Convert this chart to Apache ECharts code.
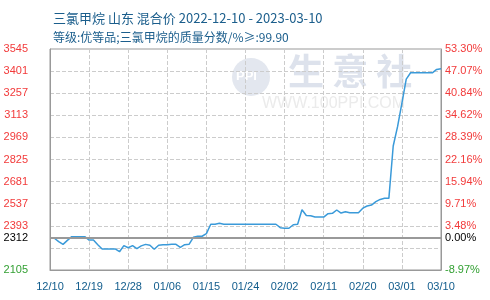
<!DOCTYPE html>
<html>
<head>
<meta charset="utf-8">
<script src="https://cdn.jsdelivr.net/npm/echarts@6/dist/echarts.min.js"></script>
<style>
html, body {margin: 0; padding: 0; background: #fff;}
#chart {width: 490px; height: 300px;}
</style>
</head>
<body>
<div id="chart"></div>
<script>
// 三氯甲烷 山东 混合价，日数据 2022-12-10 ~ 2023-03-10
var startDate = '2022-12-10'
var dayCount = 91
var prices = [
  2312, 2312, 2290, 2272, 2298, 2322, 2322, 2322, 2322, 2300,
  2300, 2270, 2242, 2242, 2242, 2242, 2224, 2264, 2250, 2264,
  2244, 2262, 2272, 2266, 2240, 2266, 2270, 2270, 2272, 2272,
  2253, 2270, 2272, 2318, 2325, 2325, 2342, 2403, 2403, 2409,
  2403, 2403, 2403, 2403, 2403, 2403, 2403, 2403, 2403, 2403,
  2403, 2403, 2403, 2381, 2377, 2377, 2400, 2403, 2498, 2460,
  2459, 2450, 2450, 2450, 2472, 2474, 2496, 2476, 2485, 2478,
  2478, 2478, 2508, 2522, 2528, 2550, 2565, 2572, 2572, 2913,
  3039, 3192, 3349, 3390, 3390, 3390, 3390, 3390, 3390, 3412,
  3416
]
var leftLabels = ['2105', '', '2393', '2537', '2681', '2825', '2969', '3113', '3257', '3401', '3545']
var rightLabels = ['-8.97%', '', '3.48%', '9.71%', '15.94%', '22.16%', '28.39%', '34.62%', '40.84%', '47.07%', '53.30%']
var basePrice = 2312
var baseLeftLabel = '2312'
var baseRightLabel = '0.00%'
var priceMin = 2105
var priceMax = 3545

var dates = []
var d0 = new Date(startDate + 'T00:00:00Z')
for (var i = 0; i < dayCount; i++) {
  var d = new Date(d0.getTime() + i * 86400000)
  var mm = ('0' + (d.getUTCMonth() + 1)).slice(-2)
  var dd = ('0' + d.getUTCDate()).slice(-2)
  dates.push(mm + '/' + dd)
}

var labelFont = 'Liberation Sans, Arial, sans-serif'
function labelColor(v) {
  return Number(v) === 0 ? '#33a033' : '#f23a3a'
}

var chart = echarts.init(document.getElementById('chart'))
chart.setOption({
  animation: false,
  title: [{
    text: '三氯甲烷 山东 混合价 2022-12-10 - 2023-03-10',
    left: 48, top: 7,
    textStyle: {fontSize: 13, fontWeight: 'normal', color: '#1b5e8c', fontFamily: 'Noto Sans CJK SC, sans-serif'}
  }, {
    text: '等级:优等品;三氯甲烷的质量分数/%≥:99.90',
    left: 48, top: 26,
    textStyle: {fontSize: 12, fontWeight: 'normal', color: '#1b5e8c', fontFamily: 'Noto Sans CJK SC, sans-serif'}
  }],
  graphic: [
    {type: 'circle', left: 232, top: 58, shape: {r: 19}, style: {fill: '#e3e7ef'}, z: 0},
    {type: 'text', left: 236, top: 70, style: {text: 'PPI', fill: '#fff', font: 'bold 13px Liberation Sans'}, z: 0},
    {type: 'text', left: 288, top: 53, style: {text: '生 意 社', fill: '#dde2ec', font: 'bold 36px Noto Sans CJK SC'}, z: 0},
    {type: 'text', left: 262, top: 96, style: {text: 'WWW.100PPI.COM', fill: '#ebebeb', font: '16px Liberation Sans'}, z: 0}
  ],
  grid: {left: 50, right: 49, top: 49, bottom: 30, show: true, borderColor: '#999', borderWidth: 1},
  xAxis: {
    type: 'category',
    data: dates,
    boundaryGap: false,
    axisLine: {lineStyle: {color: '#999'}},
    axisTick: {show: false},
    axisLabel: {interval: 8, color: '#115c8c', fontSize: 11, fontFamily: labelFont, margin: 11},
    splitLine: {show: true, interval: 8, lineStyle: {color: '#ccc', type: 'dashed'}}
  },
  yAxis: [{
    type: 'value', min: priceMin, max: priceMax, show: false, splitLine: {show: false}
  }, {
    type: 'value', position: 'left', min: 0, max: 10, interval: 1,
    axisLine: {show: true, lineStyle: {color: '#999'}},
    axisTick: {show: false},
    axisLabel: {
      margin: 22, fontSize: 11, fontFamily: labelFont, color: labelColor,
      formatter: function (v) { return leftLabels[v] }
    },
    splitLine: {show: true, lineStyle: {color: '#ccc', type: 'dashed'}}
  }, {
    type: 'value', position: 'right', min: 0, max: 10, interval: 1,
    axisLine: {show: true, lineStyle: {color: '#999'}},
    axisTick: {show: false},
    axisLabel: {
      margin: 4, fontSize: 11, fontFamily: labelFont, color: labelColor,
      formatter: function (v) { return rightLabels[v] }
    },
    splitLine: {show: false}
  }],
  series: [{
    type: 'line',
    yAxisIndex: 0,
    data: prices,
    symbol: 'none',
    lineStyle: {color: '#3a9ad9', width: 1.5},
    z: 3,
    markLine: {
      silent: true,
      symbol: 'none',
      lineStyle: {color: '#999', width: 2, type: 'solid'},
      data: [
        {yAxis: basePrice, label: {position: 'start', distance: 22, formatter: baseLeftLabel, color: '#000', fontSize: 11, fontFamily: labelFont}},
        {yAxis: basePrice, label: {position: 'end', distance: 4, formatter: baseRightLabel, color: '#000', fontSize: 11, fontFamily: labelFont}}
      ]
    }
  }]
})
</script>
</body>
</html>
